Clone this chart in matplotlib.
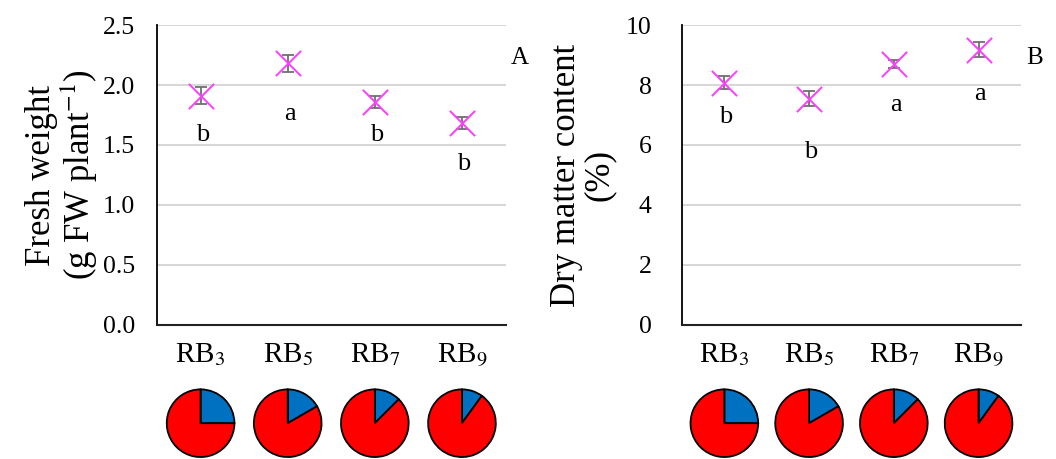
import matplotlib.pyplot as plt
import matplotlib.transforms as mtransforms

plt.rcParams['font.family'] = ['Liberation Serif', 'DejaVu Serif']
plt.rcParams['mathtext.fontset'] = 'stix'

treatments = ['RB$_3$', 'RB$_5$', 'RB$_7$', 'RB$_9$']
blue_share = [1/4, 1/6, 1/8, 1/10]

fresh_weight = [1.91, 2.18, 1.86, 1.68]
fresh_err = [0.07, 0.07, 0.05, 0.05]
fresh_letters = ['b', 'a', 'b', 'b']
fresh_letter_y = [1.58, 1.76, 1.58, 1.34]

dry_matter = [8.08, 7.55, 8.7, 9.18]
dry_err = [0.22, 0.25, 0.12, 0.25]
dry_letters = ['b', 'b', 'a', 'a']
dry_letter_y = [6.95, 5.75, 7.35, 7.7]

fig = plt.figure(figsize=(10.56, 4.59), dpi=100)
ax1 = fig.add_axes([0.1487, 0.292, 0.330, 0.6535])
ax2 = fig.add_axes([0.6458, 0.292, 0.321, 0.6535])

panels = [
    (ax1, fresh_weight, fresh_err, fresh_letters, fresh_letter_y, 2.5, 0.5, '%.1f',
     'Fresh weight\n(g FW plant$^{-1}$)', 'A', 2),
    (ax2, dry_matter, dry_err, dry_letters, dry_letter_y, 10, 2, '%d',
     'Dry matter content\n(%)', 'B', 7),
]

for ax, vals, errs, letters, ly, ymax, step, fmt, ylab, tag, lpad in panels:
    x = list(range(len(treatments)))
    ax.errorbar(x, vals, yerr=errs, fmt='none', ecolor='#707070', elinewidth=1.3,
                capsize=4, capthick=1.3, zorder=3)
    ax.scatter(x, vals, marker='x', s=330, color='#FF3CFF', linewidths=1.4, zorder=4)
    for xi, t, yy in zip(x, letters, ly):
        ax.text(xi + 0.02, yy, t, ha='center', va='center', fontsize=19)
    ax.set_xlim(-0.5, len(treatments) - 0.5)
    ax.set_ylim(0, ymax)
    ticks = [i * step for i in range(int(round(ymax / step)) + 1)]
    ax.set_yticks(ticks)
    ax.set_yticklabels([fmt % t for t in ticks], fontsize=18.5)
    ax.yaxis.grid(True, color='#d0d0d0', linewidth=1.2)
    ax.set_axisbelow(True)
    ax.tick_params(axis='y', length=0, pad=16 if tag == 'A' else 22)
    ax.set_xticks(x)
    ax.set_xticklabels(treatments, fontsize=21)
    ax.tick_params(axis='x', length=0, pad=12)
    for s in ['top', 'right']:
        ax.spines[s].set_visible(False)
    ax.spines['left'].set_linewidth(1.3)
    ax.spines['bottom'].set_linewidth(1.5)
    ax.spines['bottom'].set_color('#222222')
    ax.set_ylabel(ylab, fontsize=25, linespacing=1.0, labelpad=lpad)
    ax.text(1.04, 0.89, tag, transform=ax.transAxes, fontsize=18, ha='center', va='center')

    trans = mtransforms.blended_transform_factory(ax.transData, ax.transAxes)
    for xi, b in zip(x, blue_share):
        pa = ax.inset_axes([xi - 0.45, -0.445, 0.9, 0.235], transform=trans)
        pa.pie([b, 1 - b], colors=['#0070C0', '#FF0000'], startangle=90, counterclock=False,
               radius=1.2, wedgeprops=dict(edgecolor='black', linewidth=1.3))
        pa.set_xlim(-1.25, 1.25)
        pa.set_ylim(-1.25, 1.25)
        pa.set_aspect('equal')
        pa.axis('off')

fig.savefig('out.png', dpi=100)
